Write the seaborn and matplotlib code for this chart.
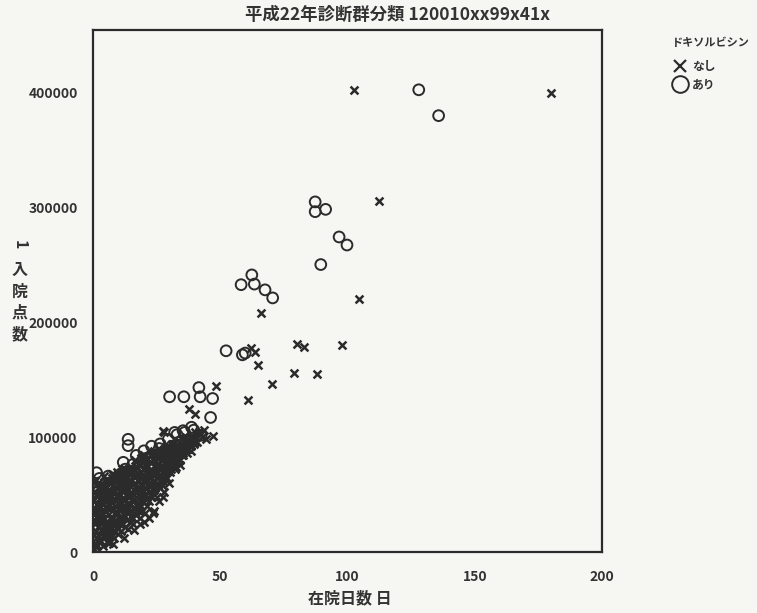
import matplotlib
matplotlib.use("Agg")
import matplotlib.pyplot as plt
from matplotlib.lines import Line2D
import seaborn as sns
import pandas as pd

sns.set_theme(style="white")
plt.rcParams["font.family"] = ["Noto Sans CJK JP", "DejaVu Sans"]

# ---- data: length of stay (days) vs. points per admission ----
# group without doxorubicin (なし)
nashi_days = [
    102.5, 180, 112.3, 104.5, 66, 62, 63.8, 65, 80, 83, 98, 79, 88.2, 70.2, 61,
    48.4, 47, 37.6, 40.2, 27.5, 28,
    0.5, 0.8, 1, 1.2, 0.6, 1.5, 0.9, 1.8, 2.1, 0.4, 1.3, 2.5, 2.8, 2.2, 1.0, 0.7, 2.6, 1.7, 3, 2.9,
    3.3, 3.5, 3.8, 4, 4.2, 4.5, 4.8, 5, 5.2, 5.5, 5.8, 3.6, 4.4, 5.6, 6, 3.9, 4.7, 5.3,
    6.2, 6.5, 6.8, 7, 7.2, 7.5, 7.8, 8, 8.2, 8.5, 8.8, 9, 9.2, 9.5, 9.8, 6.4, 7.3, 8.6, 9.6, 10, 6.9, 8.1,
    10.3, 10.6, 10.9, 11.2, 11.5, 11.8, 12, 12.3, 12.6, 12.9, 13.2, 13.5, 13.8, 14, 10.5, 11.4, 13, 14, 11, 12.5,
    14.3, 14.6, 14.9, 15.2, 15.5, 15.8, 16.1, 16.4, 16.7, 17, 17.3, 17.6, 17.9, 15, 16, 17.5, 18, 14.8, 16.5, 18,
    18.4, 18.7, 19, 19.3, 19.6, 19.9, 20.2, 20.5, 20.8, 21.1, 21.4, 21.7, 22, 19, 20, 21, 22, 18.8,
    22.4, 22.7, 23, 23.3, 23.6, 23.9, 24.2, 24.5, 24.8, 25.1, 25.4, 25.7, 26, 22.5, 24, 25,
    26.3, 26.6, 26.9, 27.2, 27.5, 27.8, 28.1, 28.4, 28.7, 29, 29.3, 29.6, 30, 27,
    30.4, 30.8, 31.2, 31.6, 32, 32.4, 32.8, 33.2, 33.6, 34, 34.4, 34.8, 35,
    35.5, 36, 36.6, 37.2, 37.8, 38.4, 39, 39.6, 40.2, 41, 42, 43.5, 44.5,
    0.3, 0.4, 0.6, 1.1, 1.4, 1.6, 1.9, 2.3, 2.4, 2.7, 3.1, 3.4, 3.7, 4.1, 4.3, 4.9, 5.1, 5.4, 5.9,
    6.1, 6.3, 6.6, 6.7, 7.1, 7.4, 7.6, 7.9, 8.3, 8.4, 8.7, 9.1, 9.3, 9.7, 9.9,
    10.1, 10.4, 10.8, 11.1, 11.3, 11.6, 11.9, 12.2, 12.4, 12.8, 13.1, 13.4, 13.7, 13.9,
    14.2, 14.5, 14.7, 15.1, 15.4, 15.7, 15.9, 16.2, 16.6, 16.9, 17.2, 17.4, 17.8,
    18.1, 18.3, 18.6, 18.9, 19.2, 19.5, 19.8, 20.1, 20.4, 20.7, 21, 21.3, 21.6, 21.9,
    22.2, 22.6, 22.9, 23.2, 23.5, 23.8, 24.1, 24.4, 24.7, 25, 25.3, 25.6, 25.9,
    26.2, 26.5, 26.8, 27.1, 27.4, 27.7, 28, 28.3, 28.6, 28.9, 29.2, 29.5, 29.8,
    30.2, 30.6, 31, 31.4, 31.8, 32.2, 32.6, 33, 33.4, 33.8, 34.2, 34.6,
    35.2, 35.8, 36.3, 36.9, 37.5, 38.1, 38.7, 39.3, 40, 40.6, 41.5, 43,
    8, 12, 16, 20, 22, 24, 26, 28, 30, 18.5, 23.5, 27.5,
]
nashi_points = [
    402000, 399000, 305000, 220000, 207500, 177000, 174000, 163000, 181000, 178000, 180000, 156000, 155000, 146000, 132500,
    144000, 100500, 124000, 120000, 105500, 104000,
    3000, 8000, 12000, 18000, 25000, 30000, 36000, 22000, 40000, 45000, 50000, 14000, 28000, 55000, 58000, 62000, 47000, 6000, 35000, 52000,
    10000, 20000, 42000, 5000, 30000, 58000, 15000, 25000, 48000, 38000, 62000, 55000, 66000, 9000, 20000, 33000, 44000, 56000,
    14000, 30000, 45000, 60000, 22000, 36000, 52000, 18000, 66000, 28000, 40000, 56000, 24000, 48000, 34000, 54000, 68000, 62000, 70000, 20000, 38000, 46000,
    30000, 44000, 58000, 25000, 38000, 52000, 66000, 32000, 46000, 60000, 28000, 42000, 55000, 70000, 64000, 72000, 36000, 48000, 18000, 22000,
    35000, 50000, 62000, 30000, 44000, 58000, 72000, 38000, 52000, 66000, 42000, 56000, 76000, 26000, 34000, 46000, 62000, 74000, 80000, 36000,
    48000, 58000, 70000, 44000, 54000, 66000, 78000, 50000, 62000, 74000, 46000, 58000, 70000, 40000, 84000, 56000, 52000, 82000,
    64000, 78000, 58000, 68000, 86000, 62000, 74000, 56000, 68000, 82000, 64000, 76000, 90000, 50000, 88000, 60000,
    68000, 80000, 62000, 74000, 88000, 70000, 82000, 66000, 78000, 92000, 72000, 84000, 76000, 58000,
    88000, 72000, 82000, 94000, 78000, 88000, 74000, 84000, 96000, 80000, 90000, 84000, 98000,
    86000, 92000, 100000, 90000, 96000, 88000, 100000, 94000, 104000, 96000, 102000, 106000, 98000,
    15000, 35000, 52000, 4000, 26000, 42000, 60000, 10000, 32000, 38000, 58000, 48000, 26000, 14000, 52000, 36000, 62000, 18000, 42000,
    52000, 8000, 62000, 24000, 48000, 14000, 64000, 30000, 54000, 12000, 34000, 44000, 64000, 16000, 58000,
    38000, 50000, 24000, 62000, 46000, 30000, 40000, 56000, 72000, 38000, 50000, 64000, 20000, 34000,
    58000, 42000, 68000, 52000, 36000, 66000, 24000, 46000, 60000, 32000, 74000, 52000, 40000,
    68000, 30000, 54000, 76000, 36000, 62000, 48000, 72000, 34000, 56000, 80000, 40000, 66000, 60000,
    44000, 84000, 72000, 48000, 62000, 80000, 54000, 70000, 86000, 48000, 74000, 58000, 84000,
    56000, 72000, 88000, 66000, 80000, 62000, 74000, 90000, 70000, 84000, 64000, 78000, 90000,
    70000, 80000, 94000, 76000, 86000, 72000, 82000, 92000, 78000, 88000, 76000, 94000,
    84000, 90000, 96000, 86000, 94000, 100000, 92000, 98000, 96000, 100000, 104000, 100000,
    7000, 12000, 19000, 26000, 30000, 36000, 44000, 52000, 60000, 24000, 34000, 48000,
]

# group with doxorubicin (あり)
ari_days = [
    128, 135.8, 87.3, 87.3, 91.4, 96.7, 99.8, 89.5, 62.4, 58.2, 63.4, 67.6, 70.6, 52.3, 58.7, 59.8,
    30.1, 35.7, 41.6, 42.1, 47, 46.2, 42.5, 35.4, 32.1, 38.7, 13.8, 13.8, 11.9, 19.7, 26, 1.4,
    0.8, 1.5, 0.5, 2.5, 3.2, 4.6, 6, 7.8, 9.4, 11, 12.6, 14.2, 15.6, 17, 18.5, 20, 21.6, 23, 24.6,
    26.4, 28, 29.6, 31, 33, 34.6, 36, 38, 39.6, 5.5, 10.2, 16.4, 22.2, 27.4, 2, 8.8, 19.4, 25.6, 30.6,
]
ari_points = [
    402000, 379500, 304500, 296000, 298000, 274000, 267000, 250000, 241000, 232500, 233000, 228000, 221000, 175000, 171500, 173000,
    135000, 135000, 143000, 135000, 133500, 117000, 101500, 105500, 104000, 108500, 98000, 92500, 78000, 81000, 90000, 69000,
    30000, 48000, 58000, 64000, 38000, 52000, 66000, 58000, 62000, 68000, 72000, 66000, 76000, 84000, 74000, 88000, 82000, 92000, 84000,
    94000, 88000, 98000, 92000, 102000, 96000, 104000, 98000, 106000, 44000, 56000, 64000, 72000, 78000, 20000, 50000, 60000, 70000, 82000,
]

x_ticks = [0, 50, 100, 150, 200]
y_ticks = [0, 100000, 200000, 300000, 400000]

df_nashi = pd.DataFrame({"在院日数": nashi_days, "1入院点数": nashi_points})
df_ari = pd.DataFrame({"在院日数": ari_days, "1入院点数": ari_points})

ink = "#2b2b2b"
paper = "#f6f6f3"

fig = plt.figure(figsize=(7.57, 6.13), dpi=100, facecolor=paper)
ax = fig.add_axes([93 / 757, 1 - 552 / 613, (602 - 93) / 757, (552 - 30) / 613])
ax.set_facecolor(paper)

sns.scatterplot(data=df_nashi, x="在院日数", y="1入院点数", ax=ax,
                marker="x", s=32, color=ink, linewidth=1.8, legend=False, zorder=3)
sns.scatterplot(data=df_ari, x="在院日数", y="1入院点数", ax=ax,
                marker="o", s=60, facecolor="none", edgecolor=ink, linewidth=1.4,
                legend=False, zorder=3)

ax.set_xlim(0, 200)
ax.set_ylim(0, 454000)
ax.set_xticks(x_ticks)
ax.set_yticks(y_ticks)
ax.set_xticklabels([str(v) for v in x_ticks])
ax.set_yticklabels([str(v) for v in y_ticks])
ax.tick_params(axis="both", direction="out", length=8, width=1.6, color=ink,
               labelsize=10, labelcolor="#333333", pad=3)
for lab in ax.get_xticklabels() + ax.get_yticklabels():
    lab.set_fontweight("bold")
ax.tick_params(axis="x", pad=5)
for sp in ax.spines.values():
    sp.set_visible(True)
    sp.set_color(ink)
    sp.set_linewidth(1.6)
ax.set_xlabel("")
ax.set_ylabel("")

# title
fig.text(398 / 757, 1 - 15 / 613, "平成22年診断群分類 120010xx99x41x",
         ha="center", va="center", fontsize=12.5, fontweight="bold", color="#333333")

# axis labels (vertical y label, Japanese style)
fig.text(350 / 757, 1 - 598 / 613, "在院日数 日", ha="center", va="center",
         fontsize=11.5, fontweight="bold", color="#333333")
fig.text(20 / 757, 1 - 245 / 613, "1", rotation=-90, ha="center", va="center",
         fontsize=11.5, fontweight="bold", color="#333333")
fig.text(20 / 757, 1 - 302 / 613, "入\n院\n点\n数", ha="center", va="center",
         fontsize=11.5, fontweight="bold", color="#333333", linespacing=1.4)

# legend
handles = [
    Line2D([], [], linestyle="none", marker="x", markersize=9, markeredgewidth=1.6, color=ink),
    Line2D([], [], linestyle="none", marker="o", markersize=12, markeredgewidth=1.4,
           markerfacecolor="none", markeredgecolor=ink),
]
leg = fig.legend(handles, ["なし", "あり"], title="ドキソルビシン",
                 loc="upper left", bbox_to_anchor=(672 / 757, 1 - 36 / 613),
                 frameon=False, fontsize=8.5, title_fontsize=8,
                 handletextpad=0.3, handlelength=1.4, labelspacing=0.45,
                 borderaxespad=0, borderpad=0, alignment="left")
leg.get_title().set_fontweight("bold")
leg.get_title().set_color("#333333")
leg._legend_box.sep = 8
for t in leg.get_texts():
    t.set_fontweight("bold")
    t.set_color("#333333")

fig.savefig("out.png", dpi=100, facecolor=paper)
